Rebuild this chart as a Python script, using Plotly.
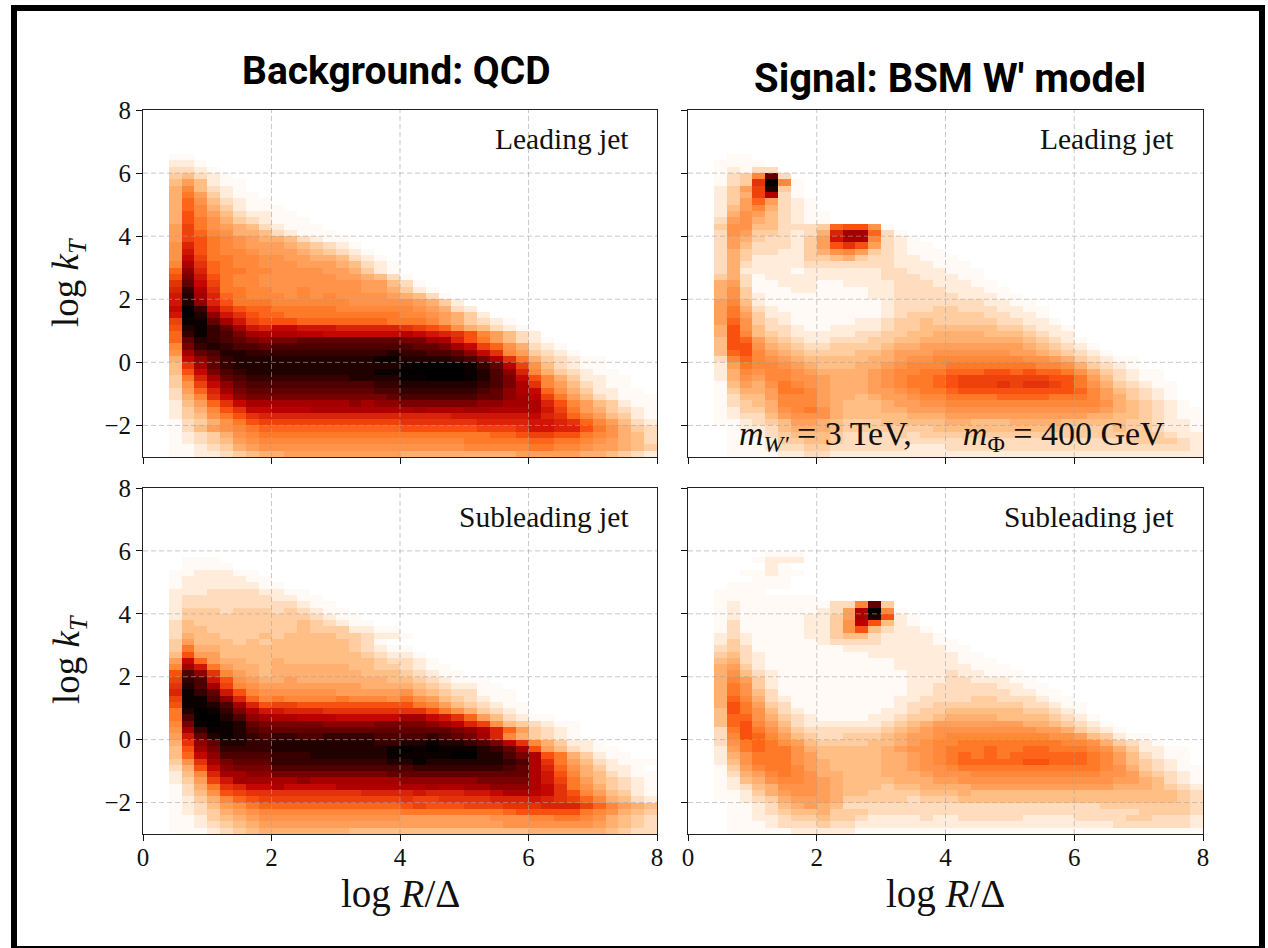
import numpy as np
import plotly.graph_objects as go

# Cell levels, base 36 (0 = white ... z = black).
# Rows run from log kT bin 47 (top) down to bin 0; columns start at the 0.4-0.6 bin.
LEVELS = 35
LOW_LEVELS = [0, 0.35, 1.3, 2.4, 3.5, 4.5, 5.5, 6.5, 7.3, 8, 9, 10.5, 12]
X_TICKS = [0, 2, 4, 6, 8]
Y_TICKS = [-2, 0, 2, 4, 6, 8]
X_EDGES = [round(0.2 * i, 1) for i in range(41)]
Y_EDGES = [round(-3 + 0.2 * i, 1) for i in range(56)]

QCD_LEADING = [
 "11", "221", "3321", "45321", "575211", "695321", "6a74211", "6b853211",
 "6b964211 1", "6c975322 11", "6ca86432 111", "7da87653 2111", "7db98665 32111",
 "7dca9876 653211", "8fca9877 7654321", "8gca9987 77654321", "8hdaa998 877665321",
 "9jeba998 8877765321", "bmfbaa99 8888776421", "cogca998 8888877653 1",
 "eqhda998 8888888775 31", "fujeaa99 8898888776 421", "gwkfba99 9898988887 6531",
 "gwmfcaaa 9999998888 87642", "hzuhecbb aaaaa99999 987632", "gzwmgecb baaaaaaaaa 9987642",
 "dyyqkgdc ccbbbbbbba aa9764321", "cwyuqkgf hhgggfffff edcb865321", "buyusokj jjiihhhhhh ihgfec9753 2",
 "bqwusqom ooqqqqqqqq ookjfca753 21", "9ouwussq ssssssssss sqqokhdb86 321",
 "8kqswwuu uuuuuuuuuw uussqmhe97 4321", "6hmquwww wwwwwwwwyy wwwwusojea 643211",
 "5ekquwww wwwwwwwwww yzzzzyuqid 853211", "5chosuww wwwwwwwwyy zzzzzywsmf 9643211",
 "4afkqsuu uuuuuuwwww yyzzzywsoh c9642211", "48dhmqss ssssssssuu wwwwwwusoj e9753211",
 "37bfkoqq qqqqqqqqss uuuuuusqmj hb8642211", "369ehmoo oooooooooq ssssssqqmk ida7532111",
 "257behkk kkkkkkmkmm oooooommkk jfc9754211", "2469cehh iiijjjjjjj jkjjjkkjjj jgda764321",
 "2458acef ffffffffff ffffgggggg hfeb975421", "13468acd dddddddddd eeeeeeffff ggfeb97532",
 "135789ab bbbbbbbbbb ccccccddde ggffca8643", "1234689a aaaaaaaaaa aaaaaaabbc ddcca98653",
 "12345789 9999999999 99999aaaaa bbaa987653", "11234678 8888888888 8888899999 aa99877654",
 "11223456 6777777777 6666666667 7777665432",
]

QCD_SUBLEADING = [
 "", "", "", "", "0111", "01111", "1122211", "12222211", "12222221 1",
 "22233332 211", "23333333 2211", "23333333 33211", "24443444 343211",
 "24444444 4443211", "35444444 44543211", "35544444 4454442211", "36554445 4555544322 1",
 "47555454 555555431", "4a665555 5555554321 1", "5c775555 5555555432 21",
 "7hb76655 6555555543 321", "9kga7665 6666665544 3211", "csme9765 6666666555 43211",
 "dusgc876 6766666665 5432111", "ewskd987 7777777666 65432211", "fyuqgc98 8888877777 865433111",
 "dyysmfb9 a9999a9998 a87543211", "cyywskfc ddcccccccc ca97543211", "awzyuojg gfffeeeeee eeca864321",
 "aszzwsmk jjiiihhhhh kkhgeb7532 11", "9oyzywqo oooommmmoo oomkifd854 3211",
 "8kuyywsq qqqqqqqqqq qqqqomjfb7 4321", "7gqwywus uussuuuuss ssusqokf96 4321",
 "6emqwwuu wwwwwwwwuu wwywwusoie 964221", "5ckouuuu wwwwwwwwwy zyzyyywuqk c753211",
 "5bhmssss uuuwwwwwwy yyyyzzwwso jca64211", "48ekoqqq uuuuuuuuuw wywwwwwwus jea7532111",
 "36chmooo ssssssssss suuuuuuusq jfb864221", "259fkkmm oooooooooq qqqqqqqqqq jgc9653211",
 "247dgkkk kkmkkkkkkk mmmmmmoooo jgda754321", "136aefhh jhhhhjjjjj jjkjjkkmmm jhea864321",
 "1358cdee eeeeeeefff fgfffgghjj ihec975421", "12469bcd dddddddddd eddeeeefff gfedb96532",
 "123578ab bbbbbbbbbb cdcccdddee efffdb9765", "12346789 9999999999 aaaaaaaabc cccca98654",
 "11245678 8888888888 7777777888 99aa986543", "11234567 7777777777 7777777788 8888876543",
 "11123456 6666665555 5555555555 6666665433",
]

WPRIME_LEADING = [
 "011", "1111", "12133", "1349q3", "134ez91", "247dw41", "246dj31", "247b7321",
 "25796321", "268753211", "37865321 1", "48855333 4bcc81", "38744323 6fkkb31",
 "37643324 7gkk9321", "37533324 7cec732110", "36433224 6897432111", "36422224 4564332211 1",
 "36322223 3333332221 11", "36222212 2222233222 111", "46312222 2222233322 211",
 "67311222 1122223332 2211", "68411122 1111223333 22211", "68421111 1111223333 322211",
 "79521111 1111123333 3332211", "7a632111 1111123334 43332211", "7a742211 1111123444 44433221",
 "7b843211 1112234454 444433221", "6c853321 1222234455 5555443221", "6c954322 2223344556 6665554322",
 "5cb75432 2333445566 6666665432 1",
 "5cc86543 3444456677 7777776543 21", "5bc97654 4445567778 8888877654 321",
 "39b98765 5555667889 9999998876 43211", "27a99876 5556678999 aaaaaaa998 64321",
 "26989987 66667899aa bbbccbcbba 8643211",
 "26879988 7666789aab cdddddddcc a753211", "15768a98 7666789aab cdddedeedc a8643211",
 "14667aa9 76667789aa bccccccccc b9754321",
 "13557999 7665677899 aaaabbbbaa a9764321", "13456999 7655567788 9999999999 998654321",
 "1244689a 8655566777 8888888888 8876543211", "12335788 8655555666 7777777777 7665543211",
 "11234577 6544455555 6655566665 5555443221", "01223566 6544444445 5555555554 4445443221",
 "01123455 5433334344 4444444444 4444444322", "01112445 5433333333 3333333333 3333444432",
 "01112334 4333333222 3333333333 3333333332", "01111223 3222222222 2222222222 2222222222",
]

WPRIME_SUBLEADING = [
 "", "", "", "0000111", "0001222", "000021", "0011211", "000111",
 "011111", "1111", "11111111", "12111111 1339q4",
 "12111111 237jz91", "12111112 247jwc21", "13111112 248ic521", "13111112 248c53221",
 "23211112 2455322221", "24211111 2333322221 1", "34311111 1122222222 11",
 "45321111 1111222222 211", "56321111 1111112222 2111", "67421111 1111112222 22111",
 "68532111 1111111222 322111", "69742111 1111111222 3322211", "6a842111 1111111223 33332211",
 "6a853111 1111111223 333332211", "6b963211 1111112233 3344333211", "6ca74311 1111112334 4444443321 1",
 "5ca85321 1111122344 5555554432 1", "5bb86432 1111223445 6666555543 21", "5bc97532 2222234567 7777776654 321",
 "3aca8643 3333345678 8888888776 4321", "39cb9754 3344456778 9999999988 754211",
 "38aba875 4444556789 9aaaaaaaa9 9864321", "27abaa86 5555567889 aaabaabbaa a98642211",
 "268aaa87 5555566789 abababbbbb ba9753211", "258aaa87 6555566789 abbbbbccbb ba9754321",
 "1479aa97 6555566788 9aaaaaaaaa aa98643211", "13679a98 6655566678 8899999999 9988754321",
 "12568998 7655556667 7888888888 8887765321", "12356888 7655545566 6677777777 7776665432",
 "11246788 7655444455 5655555555 5555555543", "11234677 7644444344 4555555555 5555555543",
 "01123567 6533333333 3333333333 3344444443", "01123455 6444333333 3333333333 3333344443",
 "01122344 5443222232 2333332222 3333443332", "01112333 4332222222 2222222222 2223333332",
 "01111122 2221111111 1111111111 1111111111",
]

PANELS = [
    ("x", "y", QCD_LEADING),
    ("x2", "y2", WPRIME_LEADING),
    ("x3", "y3", QCD_SUBLEADING),
    ("x4", "y4", WPRIME_SUBLEADING),
]
W, H = 1268, 948
SERIF = "Liberation Serif"


def level_value(ch):
    n = int(ch, 36)
    return LOW_LEVELS[n] if n < len(LOW_LEVELS) else n


def grid(rows):
    z = np.zeros((55, 40))
    for k, row in enumerate(rows):
        row = row.replace(" ", "")[:38]
        for c, ch in enumerate(row):
            z[47 - k, c + 2] = level_value(ch)
    return z


HEAT = [
    [0, "rgb(255,255,255)"], [0.125, "rgb(255,192,135)"], [0.25, "rgb(255,125,42)"],
    [1 / 3, "rgb(252,85,16)"], [0.5, "rgb(191,0,0)"], [1, "rgb(0,0,0)"],
]

fig = go.Figure()
for xa, ya, rows in PANELS:
    fig.add_trace(go.Heatmap(
        z=grid(rows), x=X_EDGES, y=Y_EDGES, xaxis=xa, yaxis=ya, zmin=0, zmax=LEVELS,
        colorscale=HEAT, showscale=False, hoverinfo="skip",
    ))
    for v in X_TICKS[1:-1]:
        fig.add_shape(type="line", xref=xa, yref=ya, x0=v, x1=v, y0=-3, y1=8, layer="above",
                      line=dict(color="rgba(165,165,165,0.6)", width=1, dash="5px,3px"))
    for v in Y_TICKS[:-1]:
        fig.add_shape(type="line", xref=xa, yref=ya, x0=0, x1=8, y0=v, y1=v, layer="above",
                      line=dict(color="rgba(165,165,165,0.6)", width=1, dash="5px,3px"))

COLS = [(143, 657), (688, 1203)]
ROWS = [(110, 457), (488, 834)]
tick_font = dict(family=SERIF, size=25, color="#111")
layout = {}
for i in range(4):
    col, row = i % 2, i // 2
    sfx = "" if i == 0 else str(i + 1)
    layout["xaxis" + sfx] = dict(
        domain=[COLS[col][0] / W, COLS[col][1] / W], range=[0, 8], tickvals=X_TICKS,
        showticklabels=row == 1, ticks="outside", ticklen=6, tickwidth=1, tickcolor="#111",
        ticklabelstandoff=-5,
        showline=True, mirror=True, linecolor="#222", linewidth=1, showgrid=False, zeroline=False,
        tickfont=tick_font, anchor="y" + sfx,
    )
    layout["yaxis" + sfx] = dict(
        domain=[1 - ROWS[row][1] / H, 1 - ROWS[row][0] / H], range=[-3, 8], tickvals=Y_TICKS,
        showticklabels=col == 0, ticks="outside", ticklen=6, tickwidth=1, tickcolor="#111",
        showline=True, mirror=True, linecolor="#222", linewidth=1, showgrid=False, zeroline=False,
        tickfont=tick_font, anchor="x" + sfx,
    )


def note(text, px, py, size, family=SERIF, xanchor="center", angle=0):
    return dict(text=text, x=px / W, y=1 - py / H, xref="paper", yref="paper", showarrow=False,
                xanchor=xanchor, yanchor="middle", textangle=angle,
                font=dict(family=family, size=size, color="#111" if family == SERIF else "#000"))


LOGR = "log <i>R</i>/Δ"
LOGK = "log <i>k<sub>T</sub></i>"
GAP = "\u00a0" * 6
annotations = [
    note("<b>Background: QCD</b>", 396, 71, 39, "Roboto"),
    note("<b>Signal: BSM W' model</b>", 950, 78, 40, "Roboto"),
    note("Leading jet", 631, 139, 29.5, SERIF, "right"),
    note("Leading jet", 1176, 139, 29.5, SERIF, "right"),
    note("Subleading jet", 631, 517, 29.5, SERIF, "right"),
    note("Subleading jet", 1176, 517, 29.5, SERIF, "right"),
    note("<i>m<sub>W′</sub></i> = 3 TeV," + GAP + "<i>m</i><sub>Φ</sub> = 400 GeV", 952, 436, 34),
    note(LOGR, 400, 894, 39),
    note(LOGR, 945, 894, 39),
    note(LOGK, 69, 283, 37, angle=-90),
    note(LOGK, 69, 660, 37, angle=-90),
]
fig.update_layout(
    width=W, height=H, margin=dict(l=0, r=0, t=0, b=0, autoexpand=False),
    paper_bgcolor="white", plot_bgcolor="white",
    showlegend=False, annotations=annotations, **layout,
)
fig.add_shape(type="rect", xref="paper", yref="paper", x0=14 / W, x1=1262 / W, y0=1 - 949 / H, y1=1 - 8 / H,
              line=dict(color="black", width=6), layer="above")
fig.write_html("out.html", config={"displayModeBar": False},
               post_script="document.body.style.margin='0';document.body.style.overflow='hidden';")
